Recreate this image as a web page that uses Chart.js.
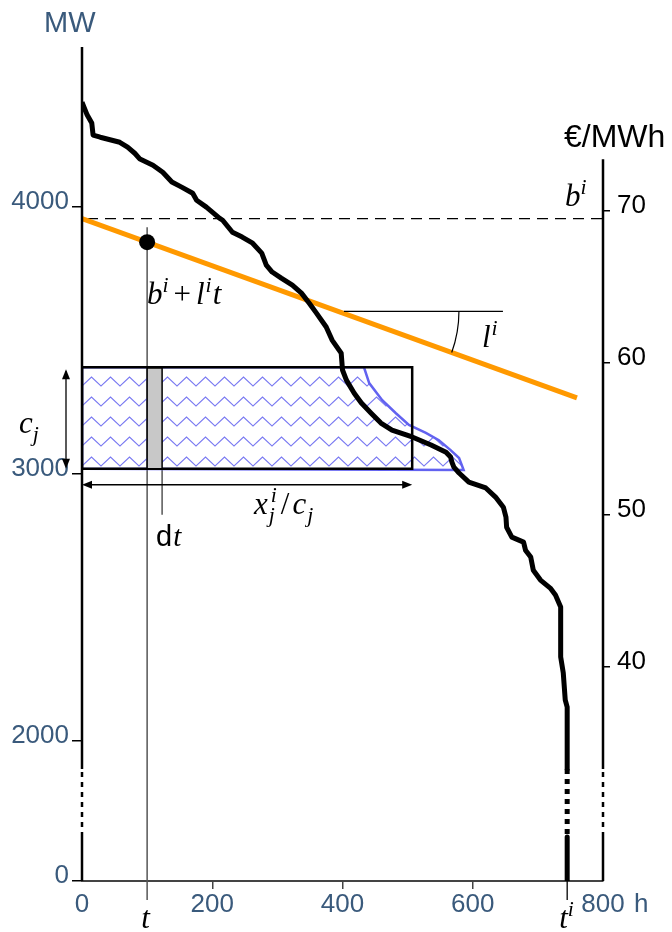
<!DOCTYPE html>
<html><head><meta charset="utf-8">
<script src="https://cdn.jsdelivr.net/npm/chart.js@4.4.1/dist/chart.umd.min.js"></script>
<style>html,body{margin:0;padding:0;background:#fff;}canvas{display:block;}</style>
</head><body>
<canvas id="c" width="672" height="932"></canvas>
<script>
// ---------- data ----------
const loadHours = [0,8,15,17,28,58,70,81,89,109,124,138,153,170,176,191,211,216,231,246,262,276,283,292,306,323,337,349,360,375,384,398,400,406,418,429,444,459,476,507,536,559,566,568,571,579,594,620,635,647,651,652,660,678,681,689,693,704,719,727,735,735,739,742,745,745,745,745,745];
const loadMW = [4393,4345,4315,4270,4262,4243,4225,4202,4180,4157,4131,4094,4075,4052,4026,4000,3959,3951,3906,3888,3865,3828,3783,3757,3734,3708,3678,3640,3603,3551,3502,3453,3390,3352,3303,3266,3228,3191,3165,3139,3109,3082,3064,3045,3026,3004,2970,2948,2914,2876,2839,2801,2764,2745,2715,2689,2640,2603,2573,2547,2502,2315,2255,2154,2127,2004,1600,630,0];
const bidLineHours = [0, 760];
const bidLinePrice = [69.5, 57.7];
const bidInterceptHours = [0, 800];
const bidInterceptPrice = [69.5, 69.5];
const tHour = [100];
const tPrice = [67.95];
const dtHours = [100, 123];
const tiHour = 745;
const blockHours = [0, 507];
const blockMW = [3020, 3400];
const shiftedHours = [433,441,461,482,502,528,548,566,579,586];
const shiftedMW = [3400,3341,3277,3228,3184,3154,3127,3090,3060,3015];
const hourTicks = [0,200,400,600,800];
const mwTicks = [0,2000,3000,4000];
const priceTicks = [40,50,60,70];
const mwBreak = [1600, 630];
const angleHour = 393;

// ---------- broken MW scale ----------
const K = 0.2622;
const tf = v => v >= 2000 ? v : 2000 - (2000 - v) * K;
const itf = u => u >= 2000 ? u : 2000 - (2000 - u) / K;
class BrokenLinearScale extends Chart.LinearScale {
  getPixelForValue(v) { const a = tf(this.min), b = tf(this.max); return this.getPixelForDecimal((tf(v) - a) / (b - a)); }
  getValueForPixel(p) { const a = tf(this.min), b = tf(this.max); return itf(a + this.getDecimalForPixel(p) * (b - a)); }
}
BrokenLinearScale.id = 'brokenLinear';
BrokenLinearScale.defaults = Chart.LinearScale.defaults;
Chart.register(BrokenLinearScale);

const SANS = '"Liberation Sans", Arial, sans-serif';
const SERIF = '"Liberation Serif", "DejaVu Serif", serif';
const LABEL = '#3a5a7c';
const MS = 31;

const ctx0 = document.getElementById('c').getContext('2d');
function zigzag() {
  const c = document.createElement('canvas'); c.width = 19; c.height = 20;
  const g = c.getContext('2d');
  g.strokeStyle = 'rgba(105,105,240,0.9)'; g.lineWidth = 1.1;
  g.beginPath(); g.moveTo(-0.5, 10.5); g.lineTo(9.5, 1); g.lineTo(19.5, 10.5); g.stroke();
  const p = ctx0.createPattern(c, 'repeat');
  p.setTransform(new DOMMatrix().translate(82, 376));
  return p;
}

const pts = (xs, ys) => xs.map((x, i) => ({x, y: ys[i]}));
const rectPts = (hx, my) => [{x:hx[0],y:my[0]},{x:hx[0],y:my[1]},{x:hx[1],y:my[1]},{x:hx[1],y:my[0]},{x:hx[0],y:my[0]}];
const hatchPts = [{x:blockHours[0],y:blockMW[0]},{x:blockHours[0],y:blockMW[1]}].concat(pts(shiftedHours, shiftedMW)).concat([{x:blockHours[0],y:blockMW[0]}]);
const iBreak = loadMW.indexOf(mwBreak[0]);
const loadAll = pts(loadHours, loadMW);
const loadUpper = loadAll.slice(0, iBreak + 1);
const loadBreak = loadAll.slice(iBreak, iBreak + 2);
const loadLower = loadAll.slice(iBreak + 1);

function mathRun(ctx, x, y, parts, size) {
  let cx = x;
  for (const p of parts) {
    if (p.k === 'supsub') {
      const fs = size * 0.7;
      ctx.font = 'italic ' + fs + 'px ' + SERIF;
      ctx.fillText(p.t, cx + 2, y - size * 0.4);
      ctx.fillText(p.t2, cx, y + size * 0.25);
      cx += Math.max(ctx.measureText(p.t).width + 2, ctx.measureText(p.t2).width) + (p.sp || 0);
      continue;
    }
    let fs = size, dy = 0;
    if (p.k === 'sup') { fs = size * 0.7; dy = -size * 0.4; }
    if (p.k === 'sub') { fs = size * 0.7; dy = size * 0.25; }
    const italic = (p.k !== 'r' && p.k !== 's');
    ctx.font = (italic ? 'italic ' : '') + fs + 'px ' + (p.k === 's' ? SANS : SERIF);
    ctx.fillText(p.t, cx, y + dy);
    cx += ctx.measureText(p.t).width + (p.sp || 0);
  }
}
function arrowHead(ctx, x, y, dx, dy) {
  const L = 10, W = 4;
  ctx.beginPath();
  ctx.moveTo(x, y);
  ctx.lineTo(x - dx * L - dy * W, y - dy * L + dx * W);
  ctx.lineTo(x - dx * L + dy * W, y - dy * L - dx * W);
  ctx.closePath(); ctx.fill();
}

const deco = {
  id: 'deco',
  beforeDatasetsDraw(chart) {
    const {ctx} = chart, xs = chart.scales.x, ys = chart.scales.y, yp = chart.scales.y2;
    ctx.save();
    const tx = xs.getPixelForValue(tHour[0]);
    ctx.strokeStyle = '#555'; ctx.lineWidth = 1.5;
    ctx.beginPath(); ctx.moveTo(tx, yp.getPixelForValue(tPrice[0]) - 15); ctx.lineTo(tx, ys.bottom + 19); ctx.stroke();
    const dx = xs.getPixelForValue(dtHours[1]);
    ctx.beginPath(); ctx.moveTo(dx, ys.getPixelForValue(blockMW[0])); ctx.lineTo(dx, ys.getPixelForValue(blockMW[0]) + 46); ctx.stroke();
    ctx.restore();
  },
  afterDatasetsDraw(chart) {
    const {ctx} = chart, xs = chart.scales.x, ys = chart.scales.y, yp = chart.scales.y2;
    const ca = chart.chartArea;
    ctx.save();
    const b1 = ys.getPixelForValue(mwBreak[0]), b2 = ys.getPixelForValue(mwBreak[1]);
    const drawAxis = (x, top) => {
      ctx.strokeStyle = '#000'; ctx.lineWidth = 2.5; ctx.lineCap = 'butt';
      ctx.setLineDash([]);
      ctx.beginPath(); ctx.moveTo(x, top); ctx.lineTo(x, b1); ctx.moveTo(x, b2); ctx.lineTo(x, ca.bottom); ctx.stroke();
      ctx.setLineDash([5, 5]);
      ctx.beginPath(); ctx.moveTo(x, b1 + 3); ctx.lineTo(x, b2); ctx.stroke();
      ctx.setLineDash([]);
    };
    drawAxis(xs.getPixelForValue(0), ca.top);
    drawAxis(xs.getPixelForValue(800), yp.getPixelForValue(73.4));
    const tix = xs.getPixelForValue(tiHour);
    ctx.strokeStyle = '#000'; ctx.lineWidth = 1.3;
    ctx.beginPath(); ctx.moveTo(tix, ca.bottom); ctx.lineTo(tix, ca.bottom + 19); ctx.stroke();

    const rl = xs.getPixelForValue(blockHours[0]), rr = xs.getPixelForValue(blockHours[1]);
    const rt = ys.getPixelForValue(blockMW[1]), rb = ys.getPixelForValue(blockMW[0]);
    ctx.fillStyle = '#000'; ctx.strokeStyle = '#000'; ctx.lineWidth = 1.3;
    const ay = rb + 16;
    ctx.beginPath(); ctx.moveTo(rl + 4, ay); ctx.lineTo(rr - 4, ay); ctx.stroke();
    arrowHead(ctx, rl, ay, -1, 0); arrowHead(ctx, rr, ay, 1, 0);
    const ax = rl - 16;
    ctx.beginPath(); ctx.moveTo(ax, rt + 4); ctx.lineTo(ax, rb - 4); ctx.stroke();
    arrowHead(ctx, ax, rt + 2, 0, -1); arrowHead(ctx, ax, rb, 0, 1);

    const p1x = xs.getPixelForValue(bidLineHours[0]), p1y = yp.getPixelForValue(bidLinePrice[0]);
    const p2x = xs.getPixelForValue(bidLineHours[1]), p2y = yp.getPixelForValue(bidLinePrice[1]);
    const ang = Math.atan2(p2y - p1y, p2x - p1x);
    const cx = xs.getPixelForValue(angleHour);
    const cy = p1y + (cx - p1x) * Math.tan(ang);
    ctx.lineWidth = 1.2;
    ctx.beginPath(); ctx.moveTo(cx + 6, cy); ctx.lineTo(cx + 165, cy); ctx.stroke();
    ctx.beginPath(); ctx.arc(cx, cy, 121, 0, ang); ctx.stroke();

    ctx.textBaseline = 'alphabetic'; ctx.textAlign = 'left';
    ctx.fillStyle = LABEL; ctx.font = '29px ' + SANS;
    ctx.fillText('MW', 44, 32);
    ctx.fillStyle = '#000'; ctx.font = '32px ' + SANS;
    ctx.fillText('€/MWh', 564, 147);
    ctx.fillStyle = LABEL; ctx.font = '26px ' + SANS;
    ctx.fillText('h', 634, 912);

    ctx.fillStyle = '#000';
    mathRun(ctx, 565, 206, [{t:'b',k:'i'},{t:'i',k:'sup'}], MS);
    mathRun(ctx, 147, 304, [{t:'b',k:'i'},{t:'i',k:'sup',sp:5},{t:'+',k:'r',sp:5},{t:'l',k:'i',sp:1},{t:'i',k:'sup',sp:1},{t:'t',k:'i'}], MS);
    mathRun(ctx, 482, 347, [{t:'l',k:'i',sp:1},{t:'i',k:'sup'}], MS);
    mathRun(ctx, 19, 433, [{t:'c',k:'i'},{t:'j',k:'sub'}], MS);
    mathRun(ctx, 254, 514, [{t:'x',k:'i',sp:1},{t:'i',t2:'j',k:'supsub',sp:4},{t:'/',k:'r',sp:3},{t:'c',k:'i',sp:1},{t:'j',k:'sub'}], MS);
    mathRun(ctx, 156, 546, [{t:'d',k:'s',sp:1},{t:'t',k:'i'}], 29);
    mathRun(ctx, xs.getPixelForValue(tHour[0]) - 6, 928, [{t:'t',k:'i'}], MS);
    mathRun(ctx, tix - 8, 928, [{t:'t',k:'i'},{t:'i',k:'sup'}], MS);
    ctx.restore();
  }
};

const loadStyle = { yAxisID: 'y', showLine: true, borderColor: '#000', borderWidth: 5, pointRadius: 0, tension: 0, borderJoinStyle: 'round', borderCapStyle: 'butt' };

new Chart(document.getElementById('c'), {
  type: 'scatter',
  data: {
    datasets: [
      { label: 'dot', data: pts(tHour, tPrice), yAxisID: 'y2', pointRadius: 8, pointBackgroundColor: '#000', pointBorderWidth: 0, showLine: false, order: 0 },
      Object.assign({ label: 'load', data: loadUpper, order: 1 }, loadStyle),
      Object.assign({ label: 'load break', data: loadBreak, order: 1, borderDash: [5, 5] }, loadStyle),
      Object.assign({ label: 'load low', data: loadLower, order: 1 }, loadStyle),
      { label: 'bid', data: pts(bidLineHours, bidLinePrice), yAxisID: 'y2', showLine: true, borderColor: '#ff9900', borderWidth: 5, pointRadius: 0, order: 2 },
      { label: 'b', data: pts(bidInterceptHours, bidInterceptPrice), yAxisID: 'y2', showLine: true, borderColor: '#000', borderWidth: 1.2, borderDash: [11,7], borderDashOffset: -5, pointRadius: 0, order: 3 },
      { label: 'dt', data: rectPts(dtHours, [blockMW[0], 3397]), yAxisID: 'y', showLine: true, fill: 'shape', backgroundColor: '#c8c8c8', borderColor: '#000', borderWidth: 1.5, pointRadius: 0, order: 4 },
      { label: 'block', data: rectPts(blockHours, blockMW), yAxisID: 'y', showLine: true, fill: false, borderColor: '#000', borderWidth: 2.5, pointRadius: 0, order: 5 },
      { label: 'hatch', data: hatchPts, yAxisID: 'y', showLine: true, fill: 'shape', backgroundColor: zigzag(), borderColor: '#6262f0', borderWidth: 2.5, pointRadius: 0, order: 6 }
    ]
  },
  options: {
    responsive: false, animation: false, devicePixelRatio: 1,
    layout: { padding: { top: 47, left: 0, right: 0, bottom: 0 } },
    plugins: { legend: { display: false }, tooltip: { enabled: false } },
    events: [],
    scales: {
      x: {
        type: 'linear', min: 0, max: 800,
        afterBuildTicks: s => { s.ticks = hourTicks.map(v => ({value: v})); },
        afterFit: s => { s.height = 51; },
        grid: { drawOnChartArea: false, drawTicks: true, tickLength: 8, lineWidth: 1.5,
          color: c => (c.tick && [200,400,600].includes(c.tick.value)) ? '#444' : 'rgba(0,0,0,0)' },
        border: { display: true, color: '#444', width: 2 },
        ticks: { color: LABEL, font: { family: SANS, size: 26 }, padding: 0, maxRotation: 0, autoSkip: false, callback: v => String(v) }
      },
      y: {
        type: 'brokenLinear', position: 'left', min: 0, max: 4600,
        afterBuildTicks: s => { s.ticks = mwTicks.map(v => ({value: v})); },
        afterFit: s => { s.width = 82; },
        grid: { drawOnChartArea: false, drawTicks: true, tickLength: 10, lineWidth: 1.5, color: '#000' },
        border: { display: false },
        ticks: { color: LABEL, font: { family: SANS, size: 26 }, padding: 3, labelOffset: -5, autoSkip: false, callback: v => String(v) }
      },
      y2: {
        type: 'linear', position: 'right', min: 25.92, max: 80.79,
        afterBuildTicks: s => { s.ticks = priceTicks.map(v => ({value: v})); },
        afterFit: s => { s.width = 69; },
        grid: { drawOnChartArea: false, drawTicks: true, tickLength: 7, lineWidth: 1.5, color: '#000' },
        border: { display: false },
        ticks: { color: '#000', font: { family: SANS, size: 26 }, padding: 7, labelOffset: -5, autoSkip: false, callback: v => String(v) }
      }
    }
  },
  plugins: [deco]
});
</script>
</body></html>
